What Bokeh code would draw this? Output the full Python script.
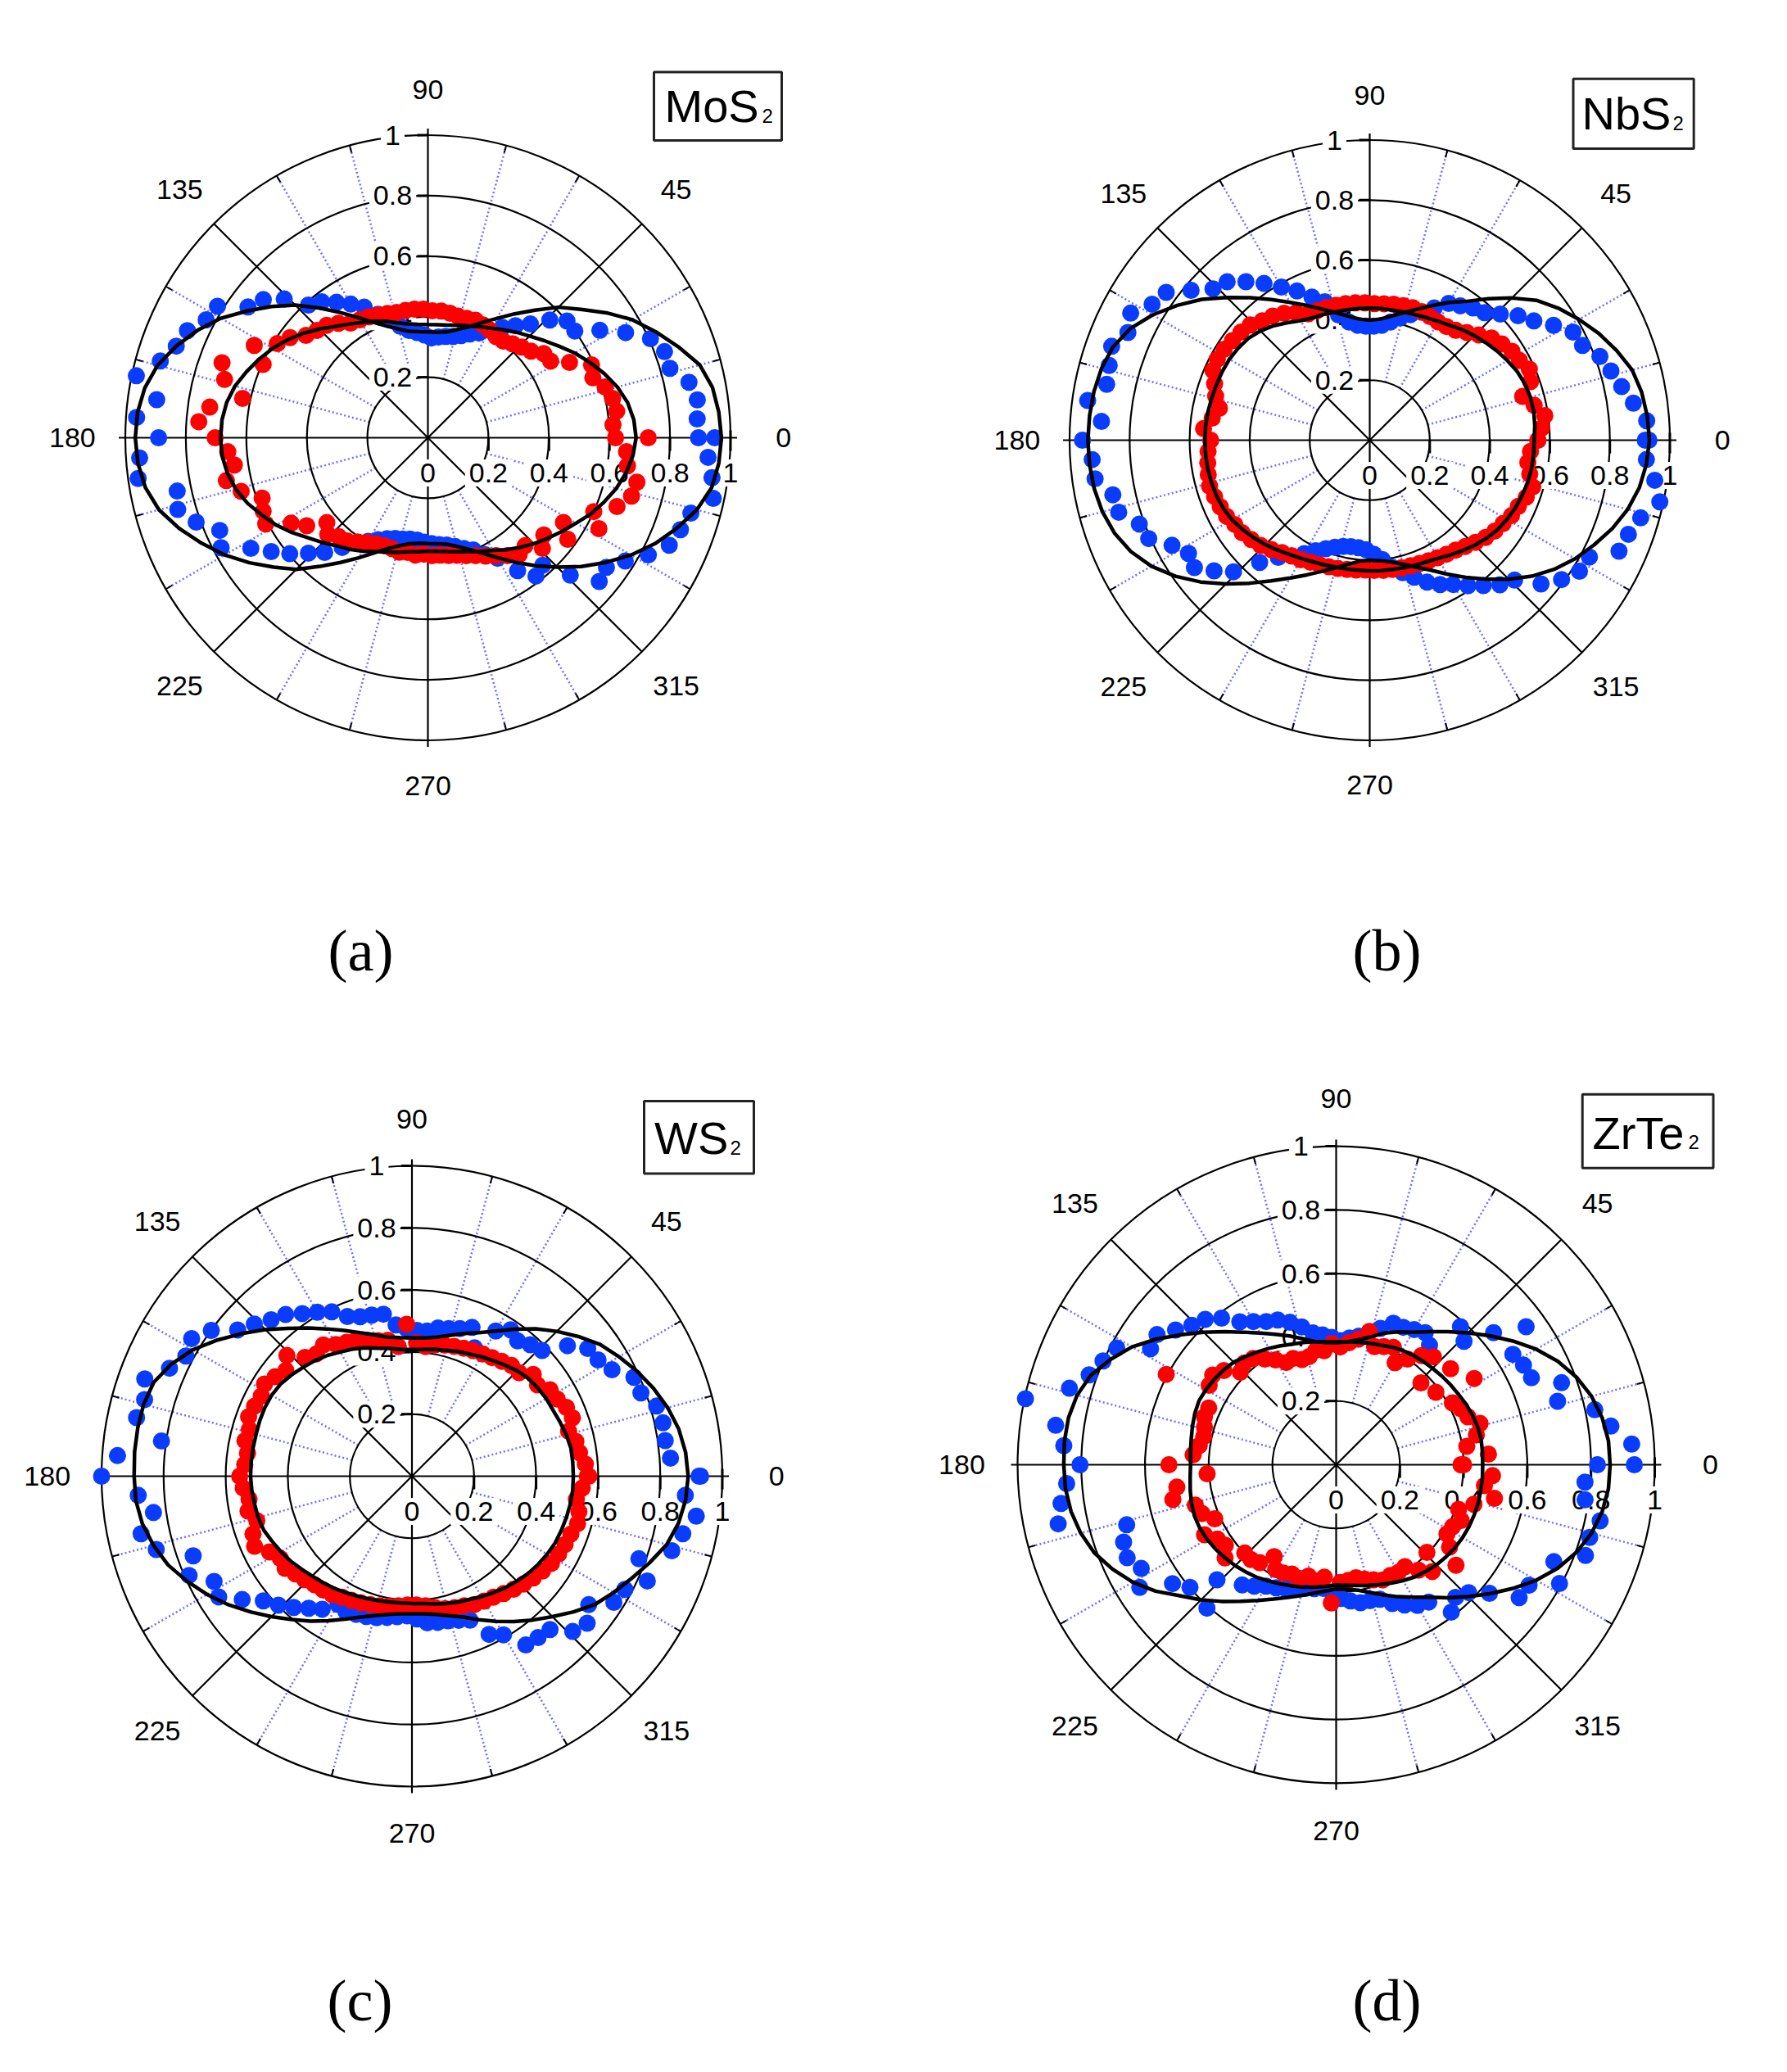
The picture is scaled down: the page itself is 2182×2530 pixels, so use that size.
import numpy as np
from bokeh.plotting import figure
from bokeh.layouts import column, row
from bokeh.core.properties import value
from bokeh.embed import file_html
from bokeh.resources import INLINE

# ------------------------------------------------------------------ data
scatter_angles = list(range(0, 361, 4))   # measured points, degrees
fit_angles = list(range(0, 360, 5))       # fitted curves, degrees

# (a) MoS2
mos2_blue = [0.894, 0.892, 0.899, 0.882, 0.832, 0.832, 0.805, 0.74, 0.67, 0.60,
             0.60, 0.56, 0.506, 0.47, 0.44, 0.41, 0.385, 0.37, 0.355, 0.345,
             0.34, 0.335, 0.33, 0.34, 0.35, 0.36, 0.38, 0.41, 0.44, 0.48,
             0.51, 0.54, 0.57, 0.59, 0.66, 0.71, 0.735, 0.82, 0.83, 0.87,
             0.885, 0.92, 0.985, 0.905, 0.965, 0.89, 0.955, 0.967, 0.847, 0.86,
             0.815, 0.753, 0.774, 0.69, 0.64, 0.596, 0.549, 0.51, 0.46, 0.42,
             0.395, 0.375, 0.36, 0.35, 0.345, 0.34, 0.34, 0.345, 0.35, 0.355,
             0.36, 0.37, 0.385, 0.40, 0.43, 0.46, 0.53, 0.58, 0.567, 0.654,
             0.739, 0.729, 0.769, 0.825, 0.873, 0.888, 0.904, 0.964, 0.948, 0.928,
             0.948]
mos2_red = [0.62, 0.613, 0.63, 0.624, 0.609, 0.58, 0.592, 0.53, 0.478, 0.473,
            0.445, 0.431, 0.418, 0.405, 0.403, 0.41, 0.415, 0.419, 0.415, 0.414,
            0.418, 0.421, 0.42, 0.425, 0.427, 0.427, 0.427, 0.432, 0.438, 0.445,
            0.45, 0.457, 0.48, 0.50, 0.51, 0.526, 0.563, 0.587, 0.65, 0.596,
            0.724, 0.699, 0.626, 0.728, 0.759, 0.703, 0.663, 0.646, 0.681, 0.642,
            0.583, 0.596, 0.607, 0.533, 0.495, 0.436, 0.46, 0.44, 0.433, 0.415,
            0.40, 0.39, 0.385, 0.385, 0.39, 0.385, 0.39, 0.385, 0.39, 0.39,
            0.395, 0.40, 0.41, 0.42, 0.435, 0.45, 0.47, 0.49, 0.48, 0.526,
            0.50, 0.571, 0.528, 0.64, 0.60, 0.665, 0.70, 0.706, 0.666, 0.658,
            0.728]
mos2_fit_blue = [0.97, 0.965, 0.955, 0.93, 0.88, 0.83, 0.78, 0.72, 0.66, 0.61,
                 0.55, 0.50, 0.455, 0.42, 0.39, 0.37, 0.355, 0.35, 0.35, 0.352,
                 0.357, 0.372, 0.392, 0.42, 0.458, 0.505, 0.56, 0.62, 0.675, 0.73,
                 0.79, 0.84, 0.885, 0.925, 0.95, 0.963, 0.967, 0.962, 0.948, 0.92,
                 0.875, 0.825, 0.775, 0.72, 0.665, 0.615, 0.555, 0.503, 0.458, 0.42,
                 0.39, 0.37, 0.356, 0.35, 0.35, 0.352, 0.357, 0.372, 0.392, 0.42,
                 0.457, 0.502, 0.552, 0.605, 0.662, 0.718, 0.775, 0.828, 0.875, 0.92,
                 0.952, 0.965]
mos2_fit_red = [0.688, 0.683, 0.67, 0.648, 0.62, 0.59, 0.56, 0.528, 0.50, 0.475,
                0.455, 0.435, 0.418, 0.405, 0.393, 0.385, 0.378, 0.375, 0.374, 0.376,
                0.382, 0.393, 0.41, 0.425, 0.44, 0.458, 0.48, 0.508, 0.537, 0.565,
                0.592, 0.615, 0.638, 0.66, 0.675, 0.683, 0.685, 0.683, 0.673, 0.657,
                0.634, 0.605, 0.578, 0.547, 0.515, 0.49, 0.467, 0.45, 0.433, 0.415,
                0.402, 0.392, 0.383, 0.378, 0.375, 0.377, 0.382, 0.39, 0.40, 0.415,
                0.43, 0.452, 0.473, 0.495, 0.517, 0.54, 0.565, 0.595, 0.62, 0.645,
                0.665, 0.68]

# (b) NbS2
nbs2_blue = [0.918, 0.925, 0.887, 0.858, 0.836, 0.816, 0.776, 0.767, 0.722, 0.676,
             0.645, 0.605, 0.572, 0.559, 0.54, 0.526, 0.49, 0.46, 0.44, 0.42,
             0.40, 0.385, 0.38, 0.38, 0.385, 0.40, 0.43, 0.485, 0.514, 0.553,
             0.589, 0.63, 0.67, 0.71, 0.726, 0.777, 0.838, 0.855, 0.902, 0.882,
             0.915, 0.903, 0.896, 0.949, 0.896, 0.957, 0.927, 0.924, 0.875, 0.87,
             0.817, 0.806, 0.746, 0.712, 0.722, 0.677, 0.631, 0.548, 0.495, 0.465,
             0.436, 0.41, 0.39, 0.375, 0.365, 0.36, 0.36, 0.365, 0.38, 0.40,
             0.43, 0.455, 0.48, 0.51, 0.535, 0.555, 0.585, 0.615, 0.648, 0.671,
             0.745, 0.79, 0.824, 0.829, 0.909, 0.917, 0.939, 0.988, 0.959, 0.924,
             0.93]
nbs2_red = [0.56, 0.574, 0.589, 0.56, 0.53, 0.57, 0.582, 0.565, 0.559, 0.545,
            0.53, 0.505, 0.483, 0.465, 0.457, 0.455, 0.458, 0.462, 0.464, 0.462,
            0.46, 0.457, 0.455, 0.458, 0.46, 0.462, 0.463, 0.465, 0.466, 0.468,
            0.49, 0.51, 0.525, 0.535, 0.553, 0.56, 0.565, 0.572, 0.575, 0.572,
            0.55, 0.534, 0.512, 0.53, 0.555, 0.53, 0.54, 0.545, 0.55, 0.555,
            0.55, 0.545, 0.54, 0.53, 0.525, 0.515, 0.505, 0.49, 0.475, 0.465,
            0.46, 0.452, 0.447, 0.443, 0.44, 0.437, 0.435, 0.433, 0.434, 0.436,
            0.437, 0.438, 0.44, 0.443, 0.447, 0.452, 0.458, 0.465, 0.476, 0.49,
            0.504, 0.515, 0.524, 0.535, 0.542, 0.555, 0.565, 0.545, 0.532, 0.537,
            0.56]
nbs2_fit_blue = [0.932, 0.928, 0.92, 0.905, 0.875, 0.842, 0.805, 0.767, 0.725, 0.67,
                 0.615, 0.565, 0.53, 0.495, 0.465, 0.44, 0.42, 0.405, 0.40, 0.405,
                 0.42, 0.44, 0.465, 0.495, 0.53, 0.572, 0.62, 0.672, 0.73, 0.783,
                 0.835, 0.88, 0.91, 0.925, 0.933, 0.937, 0.939, 0.937, 0.932, 0.922,
                 0.905, 0.878, 0.84, 0.79, 0.735, 0.677, 0.622, 0.572, 0.53, 0.495,
                 0.465, 0.44, 0.42, 0.405, 0.40, 0.403, 0.412, 0.428, 0.45, 0.477,
                 0.515, 0.558, 0.605, 0.655, 0.705, 0.75, 0.79, 0.825, 0.86, 0.89,
                 0.912, 0.925]
nbs2_fit_red = [0.548, 0.552, 0.555, 0.554, 0.55, 0.542, 0.53, 0.518, 0.505, 0.493,
                0.48, 0.467, 0.457, 0.45, 0.445, 0.442, 0.44, 0.44, 0.44, 0.44,
                0.441, 0.443, 0.446, 0.45, 0.46, 0.478, 0.498, 0.515, 0.528, 0.535,
                0.54, 0.542, 0.543, 0.545, 0.547, 0.549, 0.549, 0.549, 0.548, 0.546,
                0.543, 0.538, 0.53, 0.518, 0.505, 0.492, 0.478, 0.465, 0.455, 0.447,
                0.442, 0.438, 0.436, 0.435, 0.435, 0.436, 0.437, 0.44, 0.443, 0.447,
                0.455, 0.467, 0.48, 0.495, 0.508, 0.52, 0.528, 0.535, 0.54, 0.545,
                0.547, 0.548]

# (c) WS2
ws2_blue = [0.93, 0.835, 0.824, 0.827, 0.82, 0.785, 0.783, 0.73, 0.707, 0.70,
            0.654, 0.583, 0.57, 0.553, 0.569, 0.54, 0.46, 0.517, 0.50, 0.49,
            0.485, 0.47, 0.47, 0.475, 0.49, 0.53, 0.535, 0.54, 0.555, 0.589,
            0.61, 0.632, 0.661, 0.678, 0.706, 0.733, 0.799, 0.837, 0.825, 0.855,
            0.916, 0.896, 0.907, 0.815, 0.951, 1.0, 0.884, 0.841, 0.892, 0.857,
            0.75, 0.786, 0.722, 0.734, 0.676, 0.625, 0.598, 0.569, 0.54, 0.517,
            0.477, 0.485, 0.48, 0.475, 0.47, 0.462, 0.455, 0.45, 0.46, 0.475,
            0.478, 0.48, 0.488, 0.50, 0.567, 0.59, 0.656, 0.66, 0.665, 0.72,
            0.737, 0.704, 0.767, 0.777, 0.83, 0.778, 0.871, 0.892, 0.925, 0.883,
            0.925]
ws2_red = [0.57, 0.56, 0.545, 0.54, 0.525, 0.55, 0.545, 0.53, 0.525, 0.50,
           0.51, 0.48, 0.48, 0.47, 0.461, 0.455, 0.45, 0.445, 0.44, 0.435,
           0.43, 0.42, 0.43, 0.49, 0.42, 0.445, 0.45, 0.46, 0.475, 0.48,
           0.49, 0.51, 0.50, 0.515, 0.56, 0.53, 0.545, 0.56, 0.55, 0.555,
           0.56, 0.545, 0.55, 0.535, 0.54, 0.555, 0.545, 0.53, 0.54, 0.52,
           0.545, 0.555, 0.52, 0.50, 0.505, 0.49, 0.48, 0.47, 0.465, 0.46,
           0.45, 0.445, 0.44, 0.435, 0.43, 0.425, 0.42, 0.415, 0.415, 0.42,
           0.43, 0.44, 0.445, 0.45, 0.46, 0.465, 0.47, 0.48, 0.49, 0.50,
           0.51, 0.52, 0.53, 0.535, 0.54, 0.545, 0.555, 0.55, 0.535, 0.55,
           0.565]
ws2_fit_blue = [0.89, 0.885, 0.873, 0.853, 0.828, 0.80, 0.77, 0.74, 0.70, 0.66,
                0.62, 0.578, 0.54, 0.51, 0.489, 0.47, 0.455, 0.447, 0.445, 0.448,
                0.455, 0.472, 0.492, 0.518, 0.548, 0.583, 0.622, 0.668, 0.715, 0.765,
                0.815, 0.855, 0.885, 0.895, 0.897, 0.897, 0.895, 0.893, 0.882, 0.862,
                0.836, 0.80, 0.762, 0.722, 0.68, 0.64, 0.603, 0.57, 0.538, 0.508,
                0.483, 0.465, 0.452, 0.445, 0.443, 0.445, 0.452, 0.465, 0.483, 0.51,
                0.54, 0.572, 0.605, 0.64, 0.68, 0.72, 0.75, 0.78, 0.815, 0.85,
                0.872, 0.885]
ws2_fit_red = [0.52, 0.52, 0.52, 0.515, 0.508, 0.502, 0.50, 0.495, 0.49, 0.48,
               0.467, 0.455, 0.445, 0.435, 0.428, 0.42, 0.415, 0.41, 0.408, 0.41,
               0.418, 0.427, 0.44, 0.452, 0.462, 0.475, 0.486, 0.496, 0.507, 0.517,
               0.522, 0.523, 0.522, 0.52, 0.52, 0.52, 0.52, 0.518, 0.515, 0.513,
               0.508, 0.497, 0.487, 0.477, 0.465, 0.455, 0.447, 0.44, 0.432, 0.425,
               0.42, 0.415, 0.412, 0.41, 0.41, 0.412, 0.418, 0.425, 0.432, 0.438,
               0.448, 0.458, 0.469, 0.478, 0.488, 0.496, 0.503, 0.509, 0.512, 0.515,
               0.518, 0.52]

# (d) ZrTe2
zrte2_blue = [0.82, 0.93, 0.871, 0.83, 0.723, 0.753, 0.671, 0.666, 0.654, 0.737,
              0.645, 0.558, 0.583, 0.476, 0.50, 0.49, 0.48, 0.479, 0.45, 0.43,
              0.41, 0.40, 0.39, 0.40, 0.41, 0.42, 0.446, 0.47, 0.49, 0.50,
              0.519, 0.541, 0.584, 0.614, 0.63, 0.658, 0.695, 0.687, 0.78, 0.801,
              0.825, 0.871, 0.997, 0.889, 0.857, 0.804, 0.848, 0.872, 0.892, 0.684,
              0.71, 0.718, 0.693, 0.727, 0.635, 0.599, 0.52, 0.606, 0.479, 0.46,
              0.44, 0.43, 0.42, 0.41, 0.40, 0.395, 0.39, 0.40, 0.42, 0.43,
              0.44, 0.44, 0.444, 0.47, 0.49, 0.51, 0.52, 0.587, 0.56, 0.578,
              0.628, 0.71, 0.714, 0.794, 0.748, 0.833, 0.828, 0.847, 0.789, 0.783,
              0.936]
zrte2_red = [0.392, 0.479, 0.414, 0.45, 0.47, 0.44, 0.43, 0.413, 0.511, 0.387,
             0.469, 0.37, 0.456, 0.435, 0.40, 0.37, 0.41, 0.40, 0.39, 0.431,
             0.40, 0.385, 0.37, 0.38, 0.36, 0.365, 0.35, 0.347, 0.36, 0.357,
             0.38, 0.40, 0.423, 0.43, 0.418, 0.46, 0.479, 0.47, 0.604, 0.438,
             0.44, 0.43, 0.425, 0.434, 0.45, 0.525, 0.406, 0.505, 0.524, 0.46,
             0.448, 0.417, 0.468, 0.44, 0.43, 0.455, 0.399, 0.40, 0.39, 0.348,
             0.38, 0.378, 0.37, 0.375, 0.36, 0.37, 0.355, 0.434, 0.37, 0.365,
             0.36, 0.37, 0.38, 0.39, 0.387, 0.39, 0.386, 0.42, 0.451, 0.396,
             0.491, 0.44, 0.41, 0.414, 0.43, 0.409, 0.45, 0.508, 0.47, 0.492,
             0.40]
zrte2_fit_blue = [0.86, 0.858, 0.848, 0.83, 0.803, 0.768, 0.725, 0.677, 0.63, 0.585,
                  0.545, 0.51, 0.48, 0.46, 0.44, 0.415, 0.398, 0.387, 0.383, 0.385,
                  0.393, 0.41, 0.43, 0.452, 0.477, 0.508, 0.545, 0.588, 0.635, 0.688,
                  0.74, 0.782, 0.82, 0.842, 0.853, 0.856, 0.855, 0.853, 0.845, 0.83,
                  0.808, 0.775, 0.737, 0.692, 0.64, 0.60, 0.56, 0.523, 0.492, 0.465,
                  0.443, 0.425, 0.41, 0.398, 0.39, 0.392, 0.40, 0.415, 0.435, 0.457,
                  0.48, 0.508, 0.545, 0.585, 0.63, 0.677, 0.725, 0.768, 0.803, 0.83,
                  0.848, 0.858]
zrte2_fit_red = [0.46, 0.461, 0.462, 0.46, 0.455, 0.45, 0.443, 0.438, 0.433, 0.428,
                 0.424, 0.42, 0.415, 0.408, 0.40, 0.395, 0.39, 0.387, 0.386, 0.388,
                 0.392, 0.397, 0.403, 0.412, 0.422, 0.432, 0.443, 0.455, 0.462, 0.467,
                 0.472, 0.475, 0.472, 0.467, 0.462, 0.459, 0.457, 0.46, 0.465, 0.47,
                 0.473, 0.472, 0.468, 0.462, 0.455, 0.448, 0.44, 0.432, 0.422, 0.413,
                 0.405, 0.398, 0.39, 0.383, 0.378, 0.38, 0.385, 0.392, 0.40, 0.41,
                 0.42, 0.43, 0.437, 0.445, 0.45, 0.455, 0.458, 0.46, 0.461, 0.462,
                 0.461, 0.461]

# axis ticks / labels
radial_ticks = [0.2, 0.4, 0.6, 0.8, 1.0]
radial_tick_labels = ["0.2", "0.4", "0.6", "0.8", "1"]
angle_ticks = [0, 45, 90, 135, 180, 225, 270, 315]
angle_tick_labels = ["0", "45", "90", "135", "180", "225", "270", "315"]
minor_angles = [a for a in range(0, 360, 15) if a % 45 != 0]

# ------------------------------------------------------------------ style
W, H = 1083, 1257
BLUE = "#0a3cff"
RED = "#ff0000"
SANS = value("Liberation Sans")
SERIF = value("Liberation Serif")


def pol(ang, r):
    t = np.deg2rad(np.asarray(ang, dtype=float))
    r = np.asarray(r, dtype=float)
    return r * np.cos(t), r * np.sin(t)


def panel(ox, oy, cx, cy, R, blue, red, fit_b, fit_r, name, sub, box, main_x,
          base_y, sub_x, caption, cap_xy):
    X = lambda ix: (ix - cx) / R
    Y = lambda iy: (cy - iy) / R
    px = lambda v: v / R
    p = figure(width=W, height=H,
               x_range=(X(ox), X(ox + W)), y_range=(Y(oy + H), Y(oy)),
               output_backend="svg", toolbar_location=None,
               x_axis_location=None, y_axis_location=None, min_border=0)
    p.grid.visible = False
    p.outline_line_color = None

    # blue dotted radial grid (every 15 deg, from r=0.2 to 1)
    x0, y0 = pol(minor_angles, [0.2] * len(minor_angles))
    x1, y1 = pol(minor_angles, [1.0] * len(minor_angles))
    p.segment(x0, y0, x1, y1, line_color="#7070ff", line_width=2.5, line_dash="2 3")
    # minor ticks on outer circle
    x2, y2 = pol(minor_angles, [1.0 - px(9)] * len(minor_angles))
    p.segment(x2, y2, x1, y1, line_color="black", line_width=2)

    # circles
    p.circle(x=[0] * 5, y=[0] * 5, radius=radial_ticks, fill_color=None,
             line_color="black", line_width=2.2)
    # diagonals
    diag = [45, 135, 225, 315]
    dx, dy = pol(diag, [1.0] * 4)
    p.segment([0] * 4, [0] * 4, dx, dy, line_color="black", line_width=2.2)
    # main axes
    ext = 1.0 + px(8)
    p.segment([-ext, 0], [0, -ext], [ext, 0], [0, ext], line_color="black", line_width=2.2)
    # ticks on horizontal axis (downwards) and vertical axis (leftwards)
    p.segment(radial_ticks, [0] * 5, radial_ticks, [-px(16)] * 5, line_color="black", line_width=3)
    p.segment([1.0], [px(9)], [1.0], [0], line_color="black", line_width=3)
    p.segment([0] * 5, radial_ticks, [-px(13)] * 5, radial_ticks, line_color="black", line_width=3)

    # radial tick labels
    p.text(x=[0] + radial_ticks, y=[-px(43)] * 6, text=["0"] + radial_tick_labels,
           text_font=SANS, text_font_size="34px", text_align="center",
           text_baseline="middle", text_color="black",
           background_fill_color="white", padding=5)
    p.text(x=[-px(43)] * 5, y=radial_ticks, text=radial_tick_labels,
           text_font=SANS, text_font_size="34px", text_align="center",
           text_baseline="middle", text_color="black",
           background_fill_color="white", padding=5)
    # angular labels
    rr = [1.175 if a in (0, 180) else (1.15 if a in (90, 270) else 1.16) for a in angle_ticks]
    ax, ay = pol(angle_ticks, rr)
    p.text(x=ax, y=ay, text=angle_tick_labels, text_font=SANS, text_font_size="34px",
           text_align="center", text_baseline="middle", text_color="black")

    # data
    bx, by = pol(scatter_angles, blue)
    p.scatter(bx, by, size=21, fill_color=BLUE, line_color=None)
    rx, ry = pol(scatter_angles, red)
    p.scatter(rx, ry, size=21, fill_color=RED, line_color=None)

    # fitted curves (closed)
    fa = fit_angles + [fit_angles[0] + 360]
    cbx, cby = pol(fa, fit_b + [fit_b[0]])
    p.line(cbx, cby, line_color="black", line_width=4.5)
    crx, cry = pol(fa, fit_r + [fit_r[0]])
    p.line(crx, cry, line_color="black", line_width=4.5)

    # material label box
    l, r_, t, b = box
    p.quad(left=[X(l)], right=[X(r_)], top=[Y(t)], bottom=[Y(b)], fill_color="white",
           line_color="#222222", line_width=3)
    p.text(x=[X(main_x)], y=[Y(base_y - 20)], text=[name], text_font=SANS,
           text_font_size="56px", text_align="left", text_baseline="middle",
           text_color="black")
    p.text(x=[X(sub_x)], y=[Y(base_y - 8.5)], text=[sub], text_font=SANS,
           text_font_size="24px", text_align="left", text_baseline="middle",
           text_color="black")

    # caption
    p.text(x=[X(cap_xy[0])], y=[Y(cap_xy[1])], text=[caption], text_font=SERIF,
           text_font_size="72px", text_align="center", text_baseline="middle",
           text_color="black")
    return p


# figures are placed at the page origin; positions below are reference-image pixels
pa = panel(0, 0, 522, 534, 369.5, mos2_blue, mos2_red, mos2_fit_blue, mos2_fit_red,
           "MoS", "2", (798, 954, 87.5, 171), 811, 149.4, 930, "(a)", (440, 1160))
pb = panel(1083, 0, 1672, 537, 366.5, nbs2_blue, nbs2_red, nbs2_fit_blue, nbs2_fit_red,
           "NbS", "2", (1920.5, 2067.7, 95.8, 181), 1931, 158, 2042, "(b)", (1693, 1160))
pc = panel(0, 1257, 502.5, 1802, 379, ws2_blue, ws2_red, ws2_fit_blue, ws2_fit_red,
           "WS", "2", (786, 920, 1344, 1432.5), 798.6, 1409.4, 891, "(c)", (439, 2442))
pd = panel(1083, 1257, 1631, 1788, 389, zrte2_blue, zrte2_red, zrte2_fit_blue, zrte2_fit_red,
           "ZrTe", "2", (1931.7, 2091.5, 1335.8, 1425.8), 1944, 1402.7, 2061, "(d)", (1693, 2442))

layout = column(row(pa, pb), row(pc, pd))
open("out.html", "w").write(file_html(layout, INLINE))
